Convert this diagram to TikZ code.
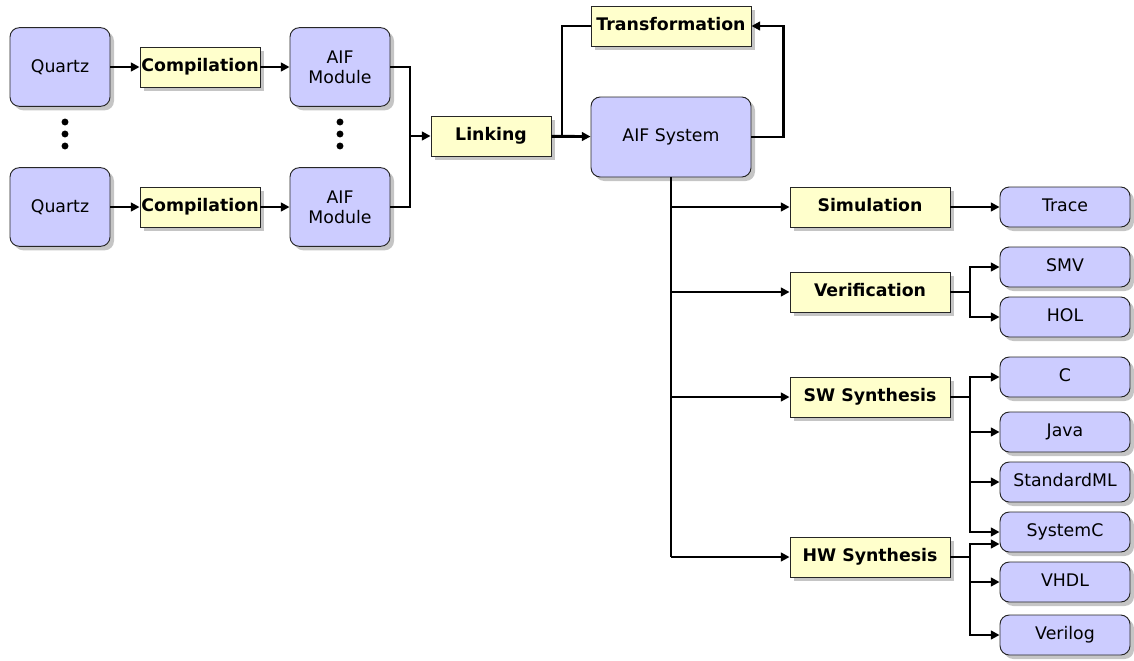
\documentclass[tikz,border=0pt]{standalone}
\usepackage{fontspec}
\setmainfont{DejaVu Sans}
\usetikzlibrary{arrows.meta,shadows}
\definecolor{boxblue}{HTML}{CCCCFF}
\definecolor{boxyellow}{HTML}{FFFFCC}

\begin{document}
\begin{tikzpicture}
  [x=0.75pt,y=-0.75pt,font=\fontsize{13}{15}\selectfont,
   basebox/.style={draw=black!85,line width=0.7pt,inner sep=0pt,align=center,
     drop shadow={shadow xshift=3pt,shadow yshift=-3pt,fill=black!45}},
   datbox/.style={basebox,fill=boxblue,rounded corners=7pt,minimum width=75pt,minimum height=59pt},
   outbox/.style={basebox,fill=boxblue,rounded corners=7pt,minimum width=97.5pt,minimum height=30pt,
     text height=1.5ex,text depth=.25ex},
   procbox/.style={basebox,fill=boxyellow,font=\fontsize{13}{15}\selectfont\bfseries,minimum width=90pt,minimum height=30pt,
     text height=1.5ex,text depth=.25ex},
   widebox/.style={procbox,minimum width=120pt},
   wire/.style={line width=2.2pt},
   feed/.style={wire,-{Triangle[length=6.5pt,width=6.5pt]}}]
  \useasboundingbox (0,0) rectangle (1134,660);
  % front end
  \node[datbox] (nq1) at (60,67) {Quartz};
  \node[datbox] (nq2) at (60,207) {Quartz};
  \node[procbox] (nc1) at (200,67) {Compilation};
  \node[procbox] (nc2) at (200,207) {Compilation};
  \node[datbox] (nm1) at (340,67) {AIF\\Module};
  \node[datbox] (nm2) at (340,207) {AIF\\Module};
  \foreach \x in {65,340}
    \foreach \y in {122,134,146}
      \fill (\x,\y) circle (2.6pt);
  \node[procbox] (nl) at (491,136) {Linking};
  \node[widebox] (nt) at (671,26) {Transformation};
  \node[datbox,minimum width=120pt,minimum height=60pt] (ns) at (671,137) {AIF System};
  % back ends
  \node[widebox] (nsim) at (870,207) {Simulation};
  \node[widebox] (nver) at (870,292) {Verification};
  \node[widebox] (nsw) at (870,397) {SW Synthesis};
  \node[widebox] (nhw) at (870,557) {HW Synthesis};
  \node[outbox] (ntr) at (1065,207) {Trace};
  \node[outbox] (nsmv) at (1065,267) {SMV};
  \node[outbox] (nhol) at (1065,317) {HOL};
  \node[outbox] (nc) at (1065,377) {C};
  \node[outbox] (njava) at (1065,432) {Java};
  \node[outbox] (nsml) at (1065,482) {StandardML};
  \node[outbox] (nsysc) at (1065,532) {SystemC};
  \node[outbox] (nvhdl) at (1065,582) {VHDL};
  \node[outbox] (nvlog) at (1065,635) {Verilog};
  \coordinate (jm) at (410,136);
  \coordinate (jl) at (562,136);
  \coordinate (jb) at (671,557);
  \coordinate (jv) at (970,292);
  \coordinate (jw) at (970,397);
  \coordinate (jh) at (970,557);
  \foreach \from/\to in {nq1/nc1,nc1/nm1,nq2/nc2,nc2/nm2,nl/ns,nsim/ntr}
    \draw[feed] (\from) -- (\to);
  \draw[wire] (nm1) -| (jm) |- (nm2);
  \draw[feed] (jm) -- (nl);
  \draw[wire] (jl) |- (nt);
  \draw[feed] (ns.east) -- ++(24pt,0) |- (nt);
  \draw[wire] (ns) -- (jb);
  \foreach \n in {nsim,nver,nsw,nhw}
    \draw[feed] (ns.south |- \n) -- (\n);
  \draw[wire] (nver) -- (jv);
  \draw[wire] (nsw) -- (jw);
  \draw[wire] (nhw) -- (jh);
  \foreach \n in {nsmv,nhol}
    \draw[feed] (jv) |- (\n);
  \foreach \n in {nc,njava,nsml,nsysc}
    \draw[feed] (jw) |- (\n);
  \draw[feed] (jh) |- ([yshift=-9pt]nsysc.west);
  \foreach \n in {nvhdl,nvlog}
    \draw[feed] (jh) |- (\n);
\end{tikzpicture}
\end{document}
